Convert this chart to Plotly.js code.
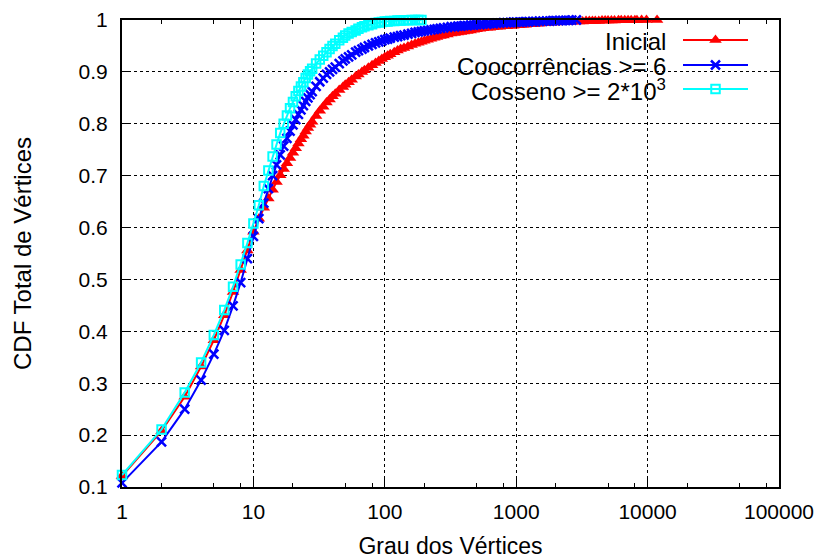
<!DOCTYPE html>
<html>
<head>
<meta charset="utf-8">
<script src="https://cdn.plot.ly/plotly-3.0.1.min.js"></script>
<style>html,body{margin:0;padding:0;background:#fff;}#chart{width:824px;height:559px;}</style>
</head>
<body>
<div id="chart"></div>
<script>
// ---- data ----
const seriesNames = ["Inicial", "Coocorrências >= 6", "Cosseno >= 2*10<sup>3</sup>"];

const inicialX = [1,2,3,4,5,6,7,8,9,10,11,12,13,14,15,16,17,18,19,20,21,22,23,24,25,26,27,28,30,32,34,36,38,40,42,45,48,50,53,56,60,63,67,70,75,80,85,90,95,100,105,110,118,125,132,140,150,160,170,180,190,200,212,225,238,250,265,280,300,320,340,360,380,400,425,450,475,500,530,560,600,630,670,710,750,800,850,900,950,1000,1060,1120,1180,1250,1330,1400,1500,1600,1700,1800,1900,2000,2120,2250,2380,2500,2650,2800,3000,3200,3400,3600,3800,4000,4250,4500,4750,5000,5300,5600,6000,6300,6700,7100,7500,8000,8300,9000,9800,11800];
const inicialY = [0.121,0.208,0.274,0.332,0.383,0.431,0.476,0.518,0.556,0.592,0.617,0.638,0.656,0.673,0.688,0.701,0.713,0.724,0.734,0.744,0.753,0.762,0.770,0.777,0.785,0.792,0.798,0.804,0.815,0.825,0.833,0.841,0.847,0.853,0.858,0.865,0.871,0.875,0.880,0.885,0.891,0.895,0.900,0.903,0.908,0.913,0.917,0.921,0.925,0.928,0.931,0.934,0.938,0.941,0.944,0.946,0.949,0.952,0.954,0.956,0.958,0.960,0.962,0.964,0.966,0.967,0.969,0.970,0.972,0.974,0.975,0.976,0.977,0.978,0.979,0.980,0.981,0.982,0.983,0.984,0.985,0.985,0.986,0.987,0.987,0.988,0.988,0.989,0.989,0.990,0.990,0.991,0.991,0.992,0.992,0.993,0.993,0.994,0.994,0.995,0.995,0.995,0.996,0.996,0.996,0.996,0.997,0.997,0.997,0.997,0.998,0.998,0.998,0.998,0.998,0.999,0.999,0.999,0.999,0.999,0.9993,0.9994,0.9995,0.9995,0.9996,0.9997,0.9997,0.9998,0.9999,1.0];

const coocX = [1,2,3,4,5,6,7,8,9,10,11,12,13,14,15,16,17,18,19,20,21,22,23,24,25,26,27,28,30,32,34,36,38,40,42,45,48,50,53,56,60,63,67,70,75,80,85,90,95,100,105,110,118,125,132,140,150,160,170,180,190,200,212,225,238,250,265,280,300,320,340,360,380,400,425,450,475,500,530,560,600,630,670,710,750,800,850,900,950,1000,1060,1120,1180,1250,1330,1400,1500,1600,1700,1800,1900,2000,2120,2250,2380,2500,2650,2870];
const coocY = [0.108,0.187,0.250,0.306,0.356,0.402,0.449,0.494,0.540,0.583,0.617,0.647,0.675,0.700,0.721,0.740,0.757,0.772,0.786,0.798,0.808,0.818,0.827,0.835,0.843,0.850,0.856,0.862,0.872,0.881,0.888,0.895,0.900,0.905,0.909,0.916,0.921,0.925,0.929,0.933,0.938,0.941,0.944,0.947,0.950,0.953,0.956,0.958,0.960,0.962,0.963,0.965,0.967,0.968,0.970,0.971,0.973,0.974,0.976,0.977,0.978,0.979,0.980,0.981,0.982,0.983,0.984,0.985,0.986,0.987,0.987,0.988,0.988,0.989,0.989,0.990,0.990,0.991,0.991,0.992,0.992,0.993,0.993,0.994,0.994,0.995,0.995,0.995,0.996,0.996,0.996,0.996,0.997,0.997,0.997,0.997,0.998,0.998,0.998,0.998,0.999,0.999,0.999,0.999,0.9995,0.9995,0.9997,1.0];

const cossenoX = [1,2,3,4,5,6,7,8,9,10,11,12,13,14,15,16,17,18,19,20,21,22,23,24,25,26,27,28,30,32,34,36,38,40,42,45,48,50,53,56,60,63,67,70,75,80,85,90,95,100,105,110,118,125,132,140,150,160,170,180,190];
const cossenoY = [0.123,0.211,0.282,0.340,0.393,0.441,0.486,0.529,0.570,0.608,0.643,0.680,0.710,0.737,0.760,0.782,0.800,0.816,0.830,0.842,0.853,0.863,0.872,0.880,0.888,0.895,0.901,0.906,0.916,0.924,0.931,0.938,0.944,0.950,0.954,0.961,0.966,0.970,0.974,0.977,0.980,0.983,0.986,0.988,0.990,0.992,0.994,0.995,0.996,0.997,0.997,0.998,0.998,0.999,0.999,0.9995,0.9997,0.9998,1.0,1.0,1.0];

const xTicks = [1,10,100,1000,10000,100000];
const xTickLabels = ["1","10","100","1000","10000","100000"];
const xMinorTicks = [2,5,8,20,50,80,200,500,800,2000,5000,8000,20000,50000,80000];
const yTicks = [0.1,0.2,0.3,0.4,0.5,0.6,0.7,0.8,0.9,1];
const yTickLabels = ["0.1","0.2","0.3","0.4","0.5","0.6","0.7","0.8","0.9","1"];

// ---- styles ----
const colors = ["#ff0000", "#0000ff", "#00ffff"];
const markers = [
  {symbol: "triangle-up", size: 11, color: colors[0]},
  {symbol: "x-thin-open", size: 9, color: colors[1], line: {color: colors[1], width: 2.5}},
  {symbol: "square-open", size: 8.5, color: colors[2], line: {color: colors[2], width: 2}}
];

const dataSets = [[inicialX, inicialY], [coocX, coocY], [cossenoX, cossenoY]];
const traces = dataSets.map((d, i) => ({
  x: d[0], y: d[1], type: "scatter", mode: "lines+markers",
  line: {color: colors[i], width: 2}, marker: markers[i],
  cliponaxis: false, hoverinfo: "skip", showlegend: false
}));

// manual gnuplot-style legend (pixel coordinates on hidden overlay axes)
const legRows = [40, 65, 89];
const legendTraces = [];
legRows.forEach((yy, i) => {
  legendTraces.push({x: [683, 748], y: [yy, yy], xaxis: "x2", yaxis: "y2", type: "scatter", mode: "lines",
    line: {color: colors[i], width: 2}, hoverinfo: "skip", showlegend: false, cliponaxis: false});
  legendTraces.push({x: [715.5], y: [yy], xaxis: "x2", yaxis: "y2", type: "scatter", mode: "markers",
    marker: markers[i], hoverinfo: "skip", showlegend: false, cliponaxis: false});
});
const annotations = seriesNames.map((t, i) => ({
  xref: "x2", yref: "y2", x: 668, y: legRows[i] + 1, text: t, showarrow: false,
  xanchor: "right", yanchor: "middle", font: {size: 24, color: "#000"}
}));

const axisCommon = {
  ticks: "inside", ticklen: 8, tickwidth: 1, tickcolor: "#000",
  showline: true, linewidth: 2, linecolor: "#000", mirror: "allticks",
  showgrid: true, gridcolor: "#000", griddash: "dot", gridwidth: 1,
  zeroline: false, tickfont: {size: 21, color: "#000"}
};

const layout = {
  width: 824, height: 559,
  margin: {l: 122, r: 45, t: 20, b: 72, pad: 0},
  paper_bgcolor: "#fff", plot_bgcolor: "#fff",
  font: {family: "Liberation Sans, Arial, sans-serif", color: "#000"},
  showlegend: false,
  xaxis: Object.assign({}, axisCommon, {
    type: "log", range: [0, 5], tickmode: "array", tickvals: xTicks, ticktext: xTickLabels,
    ticklabelstandoff: 5,
    minor: {tickmode: "array", tickvals: xMinorTicks, ticks: "inside", ticklen: 4, tickwidth: 1, tickcolor: "#000", showgrid: false},
    title: {text: "Grau dos Vértices", font: {size: 23, color: "#000"}, standoff: 18}
  }),
  yaxis: Object.assign({}, axisCommon, {
    range: [0.1, 1], tickmode: "array", tickvals: yTicks, ticktext: yTickLabels,
    ticklabelstandoff: 8,
    title: {text: "CDF Total de Vértices", font: {size: 24, color: "#000"}, standoff: 40}
  }),
  xaxis2: {overlaying: "x", anchor: "y", range: [122, 779], visible: false, showgrid: false, zeroline: false},
  yaxis2: {overlaying: "y", anchor: "x", range: [487, 20], visible: false, showgrid: false, zeroline: false},
  annotations: annotations
};

Plotly.newPlot("chart", traces.concat(legendTraces), layout, {staticPlot: true, displayModeBar: false});
</script>
</body>
</html>
